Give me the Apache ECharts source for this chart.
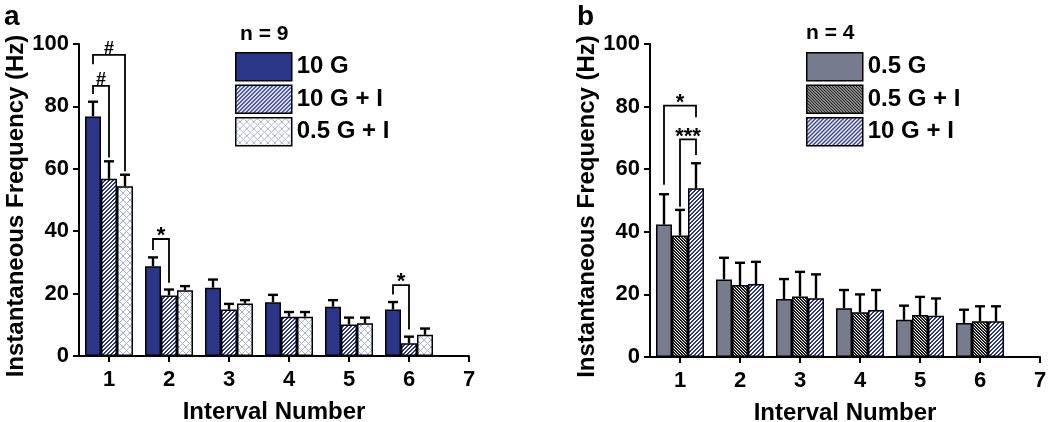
<!DOCTYPE html>
<html><head><meta charset="utf-8">
<script src="https://cdn.jsdelivr.net/npm/echarts@6/dist/echarts.min.js"></script>
<style>html,body{margin:0;padding:0;background:#fff}#c{width:1050px;height:422px}</style>
</head><body><div id="c"></div>
<script>
// ---------- data ----------
const intervals = [1, 2, 3, 4, 5, 6];
const xTickValues = [1, 2, 3, 4, 5, 6, 7];
const yAxisTitle = 'Instantaneous Frequency (Hz)';
const xAxisTitle = 'Interval Number';

// panel a (n = 9)
const namesA = ['10 G', '10 G + I', '0.5 G + I'];
const a10G      = [76.8, 28.8, 21.9, 17.2, 15.8, 14.9];
const a10G_up   = [81.5, 31.6, 24.5, 19.6, 17.9, 17.3];
const a10GI     = [56.8, 19.4, 14.9, 12.6, 10.1, 4.1];
const a10GI_up  = [62.4, 21.3, 16.7, 14.1, 12.3, 6.2];
const a05GI     = [54.4, 21.1, 16.8, 12.6, 10.5, 6.8];
const a05GI_up  = [58.1, 22.4, 17.9, 14.1, 12.3, 8.8];
// brackets: [interval, fromBar, toBar, top, leftEnd, rightEnd]
const bracketsA = [[1, 0, 2, 96.5, 93.5, 59.2], [1, 0, 1, 86.6, 84.0, 63.6], [2, 0, 1, 37.5, 34.0, 23.5], [6, 0, 1, 22.7, 19.7, 8.5]];
const bracketLabelsA = ['#', '#', '*', '*'];

// panel b (n = 4)
const namesB = ['0.5 G', '0.5 G + I', '10 G + I'];
const b05G      = [42.3, 24.8, 18.5, 15.6, 11.9, 10.9];
const b05G_up   = [52.0, 31.7, 24.9, 21.4, 16.4, 15.1];
const b05GI     = [38.8, 23.0, 19.3, 14.3, 13.4, 11.4];
const b05GI_up  = [47.0, 30.1, 27.2, 20.0, 19.2, 16.2];
const b10GI     = [53.9, 23.3, 18.8, 15.0, 13.2, 11.4];
const b10GI_up  = [61.9, 30.4, 26.4, 21.4, 18.7, 16.2];
const bracketsB = [[1, 0, 2, 80.3, 55.0, 76.6], [1, 1, 2, 69.5, 48.0, 64.5]];
const bracketLabelsB = ['*', '***'];

// ---------- styling ----------
const FONT = '"Liberation Sans", Arial, Helvetica, sans-serif';
const NAVY = '#2B3688';
const GRAY = '#767C8E';
const BAR_W = 16;
const OFFS = [-BAR_W, 0, BAR_W];

// pixel hatch: dir '/' uses (x+y), '\\' uses (x-y); shades[k] colour for phase k
function pixHatch(period, shades, dirs) {
  const size = period * 4;
  const c = document.createElement('canvas');
  c.width = c.height = size;
  const g = c.getContext('2d');
  g.fillStyle = '#fff'; g.fillRect(0, 0, size, size);
  for (let y = 0; y < size; y++) for (let x = 0; x < size; x++) {
    dirs.forEach(d => {
      const ph = (((d === '/' ? x + y : x - y) % period) + period) % period;
      const col = shades[ph];
      if (col) { g.fillStyle = col; g.fillRect(x, y, 1, 1); }
    });
  }
  return { image: c, repeat: 'repeat' };
}
const navyStripe = pixHatch(4, [NAVY, '#2F3A8C', null, null], ['/']);
const blackStripe = pixHatch(3, ['#000', '#333', null], ['\\']);
const crossHatch = pixHatch(7, ['#A6B3D3', null, null, null, null, null, null], ['/', '\\']);

const chart = echarts.init(document.getElementById('c'), null, { renderer: 'canvas' });

function barSeries(name, vals, color, idx) {
  return {
    name, type: 'bar', xAxisIndex: idx, yAxisIndex: idx,
    barWidth: BAR_W, barGap: '0%',
    data: intervals.map((x, i) => [x, vals[i]]),
    itemStyle: { color, borderColor: '#000', borderWidth: 1.5 },
    emphasis: { disabled: true }, z: 2
  };
}
function errSeries(vals, ups, k, idx) {
  return {
    type: 'custom', xAxisIndex: idx, yAxisIndex: idx, z: 3, silent: true,
    data: intervals.map((x, i) => [x, ups[i], vals[i]]),
    encode: { x: 0, y: 1 },
    renderItem: (params, api) => {
      const x = api.value(0);
      const p0 = api.coord([x, api.value(2)]);
      const p1 = api.coord([x, api.value(1)]);
      const cx = p0[0] + OFFS[k];
      const st = { stroke: '#000', lineWidth: 2.4 };
      return { type: 'group', children: [
        { type: 'line', shape: { x1: cx, y1: p0[1], x2: cx, y2: p1[1] }, style: st },
        { type: 'line', shape: { x1: cx - 5, y1: p1[1], x2: cx + 5, y2: p1[1] }, style: st }
      ]};
    }
  };
}
function bracketSeries(rows, labels, idx) {
  return {
    type: 'custom', xAxisIndex: idx, yAxisIndex: idx, z: 4, silent: true,
    data: rows, encode: { x: 0, y: 3 },
    renderItem: (params, api) => {
      const gx = api.value(0), f = api.value(1), t = api.value(2);
      const top = api.coord([gx, api.value(3)]);
      const l = api.coord([gx, api.value(4)]);
      const r = api.coord([gx, api.value(5)]);
      const x1 = top[0] + OFFS[f], x2 = top[0] + OFFS[t];
      const lab = labels[params.dataIndex];
      const isHash = lab === '#';
      return { type: 'group', children: [
        { type: 'polyline', shape: { points: [[x1, l[1]], [x1, top[1]], [x2, top[1]], [x2, r[1]]] },
          style: { stroke: '#000', lineWidth: 1.8, fill: null } },
        { type: 'text', x: (x1 + x2) / 2, y: top[1] + (isHash ? 3 : 8),
          style: { text: lab, fill: '#000', font: 'bold ' + (isHash ? 18 : 22) + 'px ' + FONT,
                   align: 'center', verticalAlign: 'bottom' } }
      ]};
    }
  };
}

const axisFont = { color: '#000', fontFamily: FONT, fontWeight: 'bold', fontSize: 22 };
function xAx(idx) {
  return {
    type: 'value', gridIndex: idx, min: 0.5, max: 7,
    name: xAxisTitle, nameLocation: 'middle', nameGap: 44,
    nameTextStyle: { color: '#000', fontFamily: FONT, fontWeight: 'bold', fontSize: 24 },
    axisLine: { show: true, onZero: false, lineStyle: { color: '#000', width: 2 } },
    axisTick: { show: true, length: 6, customValues: xTickValues, lineStyle: { color: '#000', width: 2 } },
    axisLabel: Object.assign({ customValues: xTickValues, margin: 13 }, axisFont),
    splitLine: { show: false }
  };
}
function yAx(idx) {
  return {
    type: 'value', gridIndex: idx, min: 0, max: 100, interval: 20,
    name: yAxisTitle, nameLocation: 'middle', nameGap: 49, nameRotate: 90,
    nameTextStyle: { color: '#000', fontFamily: FONT, fontWeight: 'bold', fontSize: 24, padding: [0, 12, 0, 0] },
    axisLine: { show: true, lineStyle: { color: '#000', width: 2 } },
    axisTick: { show: true, length: 6, lineStyle: { color: '#000', width: 2 } },
    axisLabel: Object.assign({ margin: 10 }, axisFont),
    splitLine: { show: false }
  };
}
function legend(left, items) {
  return {
    left, top: 52, orient: 'vertical', padding: 0, itemGap: 3,
    itemWidth: 56, itemHeight: 28, icon: 'rect', selectedMode: false,
    itemStyle: { borderColor: '#000', borderWidth: 1.5 },
    textStyle: { color: '#000', fontFamily: FONT, fontWeight: 'bold', fontSize: 24 },
    data: items
  };
}
const titleStyle = (sz) => ({ color: '#000', fontFamily: FONT, fontWeight: 'bold', fontSize: sz });

chart.setOption({
  animation: false,
  backgroundColor: '#fff',
  title: [
    { text: 'a', left: 4, top: 3, padding: 0, textStyle: titleStyle(28) },
    { text: 'b', left: 577, top: 3, padding: 0, textStyle: titleStyle(28) },
    { text: 'n = 9', left: 240, top: 24, padding: 0, textStyle: titleStyle(21) },
    { text: 'n = 4', left: 806, top: 23, padding: 0, textStyle: titleStyle(21) }
  ],
  grid: [
    { left: 79, top: 44, width: 390, height: 312, outerBoundsMode: 'none', containLabel: false },
    { left: 650, top: 44, width: 390, height: 313, outerBoundsMode: 'none', containLabel: false }
  ],
  xAxis: [xAx(0), xAx(1)],
  yAxis: [yAx(0), yAx(1)],
  legend: [
    legend(235, [{ name: namesA[0], itemStyle: { color: NAVY } },
                 { name: namesA[1], itemStyle: { color: navyStripe } },
                 { name: namesA[2], itemStyle: { color: crossHatch } }]),
    legend(806, [{ name: namesB[0], itemStyle: { color: GRAY } },
                 { name: namesB[1], itemStyle: { color: blackStripe } },
                 { name: namesB[2], itemStyle: { color: navyStripe } }])
  ],
  series: [
    barSeries(namesA[0], a10G, NAVY, 0),
    barSeries(namesA[1], a10GI, navyStripe, 0),
    barSeries(namesA[2], a05GI, crossHatch, 0),
    errSeries(a10G, a10G_up, 0, 0),
    errSeries(a10GI, a10GI_up, 1, 0),
    errSeries(a05GI, a05GI_up, 2, 0),
    bracketSeries(bracketsA, bracketLabelsA, 0),
    barSeries(namesB[0], b05G, GRAY, 1),
    barSeries(namesB[1], b05GI, blackStripe, 1),
    barSeries(namesB[2], b10GI, navyStripe, 1),
    errSeries(b05G, b05G_up, 0, 1),
    errSeries(b05GI, b05GI_up, 1, 1),
    errSeries(b10GI, b10GI_up, 2, 1),
    bracketSeries(bracketsB, bracketLabelsB, 1)
  ]
});
</script></body></html>
